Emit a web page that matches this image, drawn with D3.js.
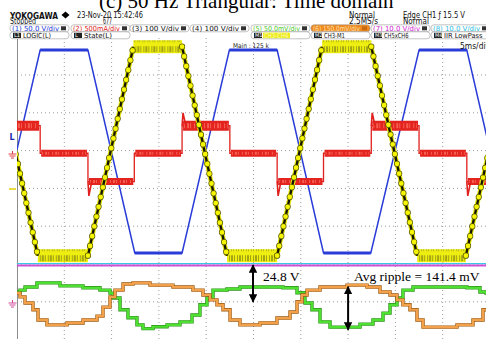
<!DOCTYPE html>
<meta charset="utf-8">
<style>
  body { margin: 0; overflow: hidden; background: #fff; }
  svg { display: block; font-family: "DejaVu Sans", sans-serif; }
</style>
<body>
<svg id="scope"></svg>
<script src="https://d3js.org/d3.v7.min.js"></script>
<script>
var width = 486, height = 339;

// time in ms (5 ms/div), levels in screen divisions from the centre line
var blueT = [-2.55, 2.45, 7.5, 12.45, 17.45, 22.45, 27.5, 32.4, 37.4, 42.5, 47.55, 52.5];
var blueV = [-1.71, 3.66, 3.66, -1.71, -1.71, 3.66, 3.66, -1.71, -1.71, 3.66, 3.66, -1.71];

var yellowT = [-2.6, 2.2, 7.5, 12.3, 17.45, 22.2, 27.5, 32.25, 37.45, 42.3, 47.45, 52.3];
var yellowV = [3.75, -1.78, -1.78, 3.75, 3.75, -1.78, -1.78, 3.75, 3.75, -1.78, -1.78, 3.75];

var redT = [-2.55, 2.45, 7.5, 12.4, 17.45, 22.5, 27.5, 32.4, 37.45, 42.5, 47.55, 52.5];
var redV = [1.66, 0.93, 0.18, 0.93, 1.66, 0.93, 0.18, 0.93, 1.66, 0.93, 0.18, 0.93];
var redSpikeT = [7.55, 17.5, 27.55, 37.5, 47.6];
var redSpikeV = [-0.2, 2.0, -0.2, 2.0, -0.2];

var cyanV = -1.99, magentaV = -2.04;

var greenT = [0, 0.32, 0.85, 2.11, 2.75, 4.55, 6.98, 8.77, 9.83, 10.15, 10.89, 11.73, 12.68, 13.32, 14.38, 15.86, 17.23, 18.5, 19.34, 20.08, 20.72, 22.2, 23.57, 25.69, 28.12, 29.6, 30.44, 31.18, 32.03, 33.09, 34.14, 36.26, 37.63, 38.69, 39.43, 40.17, 40.8, 41.86, 44.71, 47.57, 48.94, 49.58, 50];
var greenV = [-2.74, -2.69, -2.61, -2.5, -2.5, -2.58, -2.63, -2.69, -2.77, -2.9, -3.21, -3.42, -3.61, -3.71, -3.66, -3.61, -3.53, -3.35, -3.08, -2.9, -2.69, -2.66, -2.61, -2.61, -2.63, -2.76, -3.03, -3.21, -3.53, -3.67, -3.67, -3.59, -3.48, -3.3, -3.08, -2.9, -2.69, -2.61, -2.61, -2.63, -2.74, -2.77, -2.77];

var orangeT = [0, 0.32, 0.85, 1.69, 2.22, 3.17, 5.29, 6.98, 8.46, 9.09, 9.83, 10.36, 11.21, 12.26, 14.06, 16.49, 18.6, 19.66, 20.4, 21.14, 21.78, 22.52, 23.57, 25.69, 27.48, 28.86, 29.6, 30.13, 30.66, 32.03, 34.88, 37.0, 38.37, 39.43, 40.17, 40.8, 41.54, 42.28, 42.92, 44.71, 46.51, 48.2, 49.26, 49.79, 50];
var orangeV = [-2.77, -2.87, -3.03, -3.21, -3.48, -3.61, -3.56, -3.48, -3.38, -3.14, -2.87, -2.69, -2.53, -2.5, -2.56, -2.61, -2.69, -2.82, -2.95, -3.08, -3.21, -3.48, -3.61, -3.56, -3.43, -3.27, -3.0, -2.82, -2.69, -2.61, -2.56, -2.61, -2.74, -2.82, -2.95, -3.08, -3.21, -3.48, -3.67, -3.67, -3.61, -3.48, -3.21, -3.03, -3.03];

var arrowT = [24.95, 35.0];
var arrowFrom = [-2.03, -2.6];
var arrowTo = [-3.0, -3.74];

var svg = d3.select("#scope").attr("width", width).attr("height", height);

var x = d3.scaleLinear().domain([0, 50]).range([17, 490]);
var y = d3.scaleLinear().domain([4, -4]).range([37.2, 339.6]);

var defs = svg.append("defs");
defs.append("clipPath").attr("id", "plotclip")
  .append("rect").attr("x", 17).attr("y", 38).attr("width", 480).attr("height", 310);
defs.append("marker").attr("id", "head")
  .attr("viewBox", "0 0 10 10").attr("refX", 9).attr("refY", 5)
  .attr("markerWidth", 4.2).attr("markerHeight", 4.2)
  .attr("markerUnits", "strokeWidth").attr("orient", "auto-start-reverse")
  .append("path").attr("d", "M0,0 L10,5 L0,10 z").attr("fill", "#000");

function pts(T, V) { return T.map(function(t, i) { return [t, V[i]]; }); }
function flats(T, V) {
  var s = [];
  for (var i = 0; i < T.length - 1; i++) if (V[i] === V[i + 1]) s.push([T[i], T[i + 1], V[i]]);
  return s;
}
function ramps(T, V) {
  var s = [];
  for (var i = 0; i < T.length - 1; i++) if (V[i] !== V[i + 1]) s.push([[T[i], V[i]], [T[i + 1], V[i + 1]]]);
  return s;
}
function steps(T, V) {
  var s = [];
  for (var i = 0; i < T.length - 1; i++) s.push([T[i], T[i + 1], V[i]]);
  return s;
}
var line = d3.line().x(function(d) { return x(d[0]); }).y(function(d) { return y(d[1]); });
var stepLine = d3.line().curve(d3.curveStepAfter).x(function(d) { return x(d[0]); }).y(function(d) { return y(d[1]); });

// grid
var grid = svg.append("g");
grid.selectAll(".vg").data(d3.range(5, 50, 5)).enter().append("line")
  .attr("x1", x).attr("x2", x).attr("y1", 38).attr("y2", height)
  .attr("stroke", "#9c9c9c").attr("stroke-dasharray", "1,3");
grid.selectAll(".hg").data(d3.range(-3, 4, 1)).enter().append("line")
  .attr("x1", 17).attr("x2", width).attr("y1", y).attr("y2", y)
  .attr("stroke", "#9c9c9c").attr("stroke-dasharray", "1,3");
grid.append("line").attr("x1", 17.5).attr("x2", 17.5).attr("y1", 38).attr("y2", height)
  .attr("stroke", "#8c8c8c").attr("stroke-width", 1);

var plot = svg.append("g").attr("clip-path", "url(#plotclip)");

// CH1 blue
plot.append("path").datum(pts(blueT, blueV)).attr("d", line)
  .attr("fill", "none").attr("stroke", "#2a3cd8").attr("stroke-width", 1.5);
plot.selectAll(".bflat").data(flats(blueT, blueV)).enter().append("line")
  .attr("x1", function(d) { return x(d[0]); }).attr("x2", function(d) { return x(d[1]); })
  .attr("y1", function(d) { return y(d[2]); }).attr("y2", function(d) { return y(d[2]); })
  .attr("stroke", "#2a3cd8").attr("stroke-width", 3);

// CH2 red
plot.append("path").datum(pts(redT, redV)).attr("d", stepLine)
  .attr("fill", "none").attr("stroke", "#e0201c").attr("stroke-width", 1.3);
plot.selectAll(".rband").data(steps(redT, redV)).enter().append("line")
  .attr("x1", function(d) { return x(d[0]) + 1; }).attr("x2", function(d) { return x(d[1]) - 1; })
  .attr("y1", function(d) { return y(d[2]); }).attr("y2", function(d) { return y(d[2]); })
  .attr("stroke", "#e3231e").attr("stroke-width", function(d) { return d[2] > 1.5 ? 10 : 7; });
plot.selectAll(".rtex").data(steps(redT, redV)).enter().append("line")
  .attr("x1", function(d) { return x(d[0]) + 2; }).attr("x2", function(d) { return x(d[1]) - 2; })
  .attr("y1", function(d) { return y(d[2]); }).attr("y2", function(d) { return y(d[2]); })
  .attr("stroke", "#ff7a6a").attr("stroke-width", function(d) { return d[2] > 1.5 ? 5 : 3; })
  .attr("stroke-dasharray", "1,2,2,1,1,3").attr("opacity", 0.7);
plot.selectAll(".rspike").data(redSpikeT.map(function(t, i) { return [t, redSpikeV[i]]; }))
  .enter().append("path")
  .attr("d", function(d) {
    var j = d3.bisectRight(redT, d[0]) - 1;
    return line([[d[0] - 0.05, redV[j]], [d[0] + 0.05, d[1]], [d[0] + 0.35, redV[j]]]);
  })
  .attr("fill", "none").attr("stroke", "#e0201c").attr("stroke-width", 1.6);

// M1 yellow: flat bands, then ramps drawn as black core with yellow dots
var yf = flats(yellowT, yellowV);
plot.selectAll(".yband").data(yf).enter().append("line")
  .attr("x1", function(d) { return x(d[0]); }).attr("x2", function(d) { return x(d[1]); })
  .attr("y1", function(d) { return y(d[2]); }).attr("y2", function(d) { return y(d[2]); })
  .attr("stroke", "#eeee10").attr("stroke-width", 13);
plot.selectAll(".ytex").data(yf).enter().append("line")
  .attr("x1", function(d) { return x(d[0]) + 2; }).attr("x2", function(d) { return x(d[1]) - 1; })
  .attr("y1", function(d) { return y(d[2]) + 2.5; }).attr("y2", function(d) { return y(d[2]) + 2.5; })
  .attr("stroke", "#8a8a18").attr("stroke-width", 6)
  .attr("stroke-dasharray", "1,1,2,1,1,2").attr("opacity", 0.75);
plot.selectAll(".ytop").data(yf).enter().append("line")
  .attr("x1", function(d) { return x(d[0]) + 1; }).attr("x2", function(d) { return x(d[1]); })
  .attr("y1", function(d) { return y(d[2]) - 5.5; }).attr("y2", function(d) { return y(d[2]) - 5.5; })
  .attr("stroke", "#b8b820").attr("stroke-width", 2)
  .attr("stroke-dasharray", "1,2,1,1");
var yr = ramps(yellowT, yellowV);
[["#e8e800", 4.6, null, "butt"], ["#141400", 2.4, null, "butt"],
 ["#5a5a00", 6.2, "0,10", "round"], ["#f6f600", 4.8, "0,10", "round"]].forEach(function(st) {
  plot.selectAll(null).data(yr).enter().append("path").attr("d", line)
    .attr("fill", "none").attr("stroke", st[0]).attr("stroke-width", st[1])
    .attr("stroke-dasharray", st[2]).attr("stroke-linecap", st[3]);
});

// CH7 / CH8 flat lines
plot.append("line").attr("x1", 17).attr("x2", width).attr("y1", y(cyanV)).attr("y2", y(cyanV))
  .attr("stroke", "#38c8e8").attr("stroke-width", 1.2);
plot.append("line").attr("x1", 17).attr("x2", width).attr("y1", y(magentaV)).attr("y2", y(magentaV))
  .attr("stroke", "#d050d8").attr("stroke-width", 1.8);

// CH5 green / CH6 orange
[[greenT, greenV, "#2f8f1c", "#4ee030"], [orangeT, orangeV, "#9a5a10", "#f2a04a"]].forEach(function(s) {
  var p = pts(s[0], s[1]);
  plot.append("path").datum(p).attr("d", stepLine)
    .attr("fill", "none").attr("stroke", s[2]).attr("stroke-width", 3.4);
  plot.append("path").datum(p).attr("d", stepLine)
    .attr("fill", "none").attr("stroke", s[3]).attr("stroke-width", 2.2);
});

// annotation arrows
arrowT.forEach(function(t, i) {
  svg.append("line")
    .attr("x1", x(t)).attr("x2", x(t))
    .attr("y1", y(arrowFrom[i])).attr("y2", y(arrowTo[i]))
    .attr("stroke", "#000").attr("stroke-width", 2)
    .attr("marker-start", "url(#head)").attr("marker-end", "url(#head)");
});
svg.append("text").attr("x", 263).attr("y", 281)
  .attr("font-family", "Liberation Serif, serif").attr("font-size", 13.5).text("24.8 V");
svg.append("text").attr("x", 354).attr("y", 281)
  .attr("font-family", "Liberation Serif, serif").attr("font-size", 13.5).text("Avg ripple = 141.4 mV");

// left-side channel markers
svg.append("text").attr("x", 9.5).attr("y", 140).attr("font-size", 8).attr("font-weight", "bold")
  .attr("fill", "#1c2cb0").text("L");
function ground(cx, cy, col) {
  var g = svg.append("g").attr("stroke", col).attr("stroke-width", 1);
  g.append("line").attr("x1", cx - 4).attr("x2", cx + 4).attr("y1", cy).attr("y2", cy);
  g.append("line").attr("x1", cx - 3).attr("x2", cx + 3).attr("y1", cy + 2).attr("y2", cy + 2);
  g.append("line").attr("x1", cx - 1.5).attr("x2", cx + 1.5).attr("y1", cy + 4).attr("y2", cy + 4);
  g.append("line").attr("x1", cx).attr("x2", cx).attr("y1", cy - 3).attr("y2", cy);
}
ground(12.5, 154, "#e04040");
ground(12.5, 303, "#d04a9a");
svg.append("line").attr("x1", 9).attr("x2", 16).attr("y1", 189).attr("y2", 189)
  .attr("stroke", "#e0d000").attr("stroke-width", 1.5);

svg.append("text").attr("x", 233).attr("y", 47.5).attr("font-size", 6.5).attr("fill", "#222")
  .attr("textLength", 36).attr("lengthAdjust", "spacingAndGlyphs").text("Main : 125 k");
svg.append("text").attr("x", 460).attr("y", 48.5).attr("font-size", 9).attr("fill", "#111")
  .attr("textLength", 30).attr("lengthAdjust", "spacingAndGlyphs").text("5ms/div");

// header
var hdr = svg.append("g");
hdr.append("rect").attr("x", 0).attr("y", 0).attr("width", width).attr("height", 38).attr("fill", "#fff");
hdr.append("text").attr("x", 99).attr("y", 8).attr("font-family", "Liberation Serif, serif")
  .attr("font-size", 21).text("(c) 50 Hz Triangular: Time domain");
function htxt(tx, ty, s, w, opts) {
  opts = opts || {};
  return hdr.append("text").attr("x", tx).attr("y", ty).attr("font-size", opts.size || 7.5)
    .attr("font-weight", opts.bold ? "bold" : null).attr("fill", opts.fill || "#111")
    .attr("textLength", w).attr("lengthAdjust", "spacingAndGlyphs").text(s);
}
htxt(10, 18.5, "YOKOGAWA", 48, {size: 9.5, bold: true});
hdr.append("path").attr("d", "M65.5,11.5 L69.5,15 L65.5,18.5 L61.5,15 Z").attr("fill", "#000");
htxt(77, 17.5, "23-Nov-20 15:42:46", 66, {size: 8});
htxt(10, 24, "Stopped", 26, {size: 8});
htxt(103, 24, "677", 9, {size: 8});
htxt(349, 17.5, "Normal", 26, {size: 8});
htxt(349, 24, "2.5MS/s", 29, {size: 8});
htxt(403, 17.5, "Edge CH1 \u0192 15.5 V", 62, {size: 8});
htxt(403, 24, "Normal", 26, {size: 8});

var tabs1 = [
  [10, "(1) 50.0 V/div", "#2034d8", null],
  [71, "(2) 500mA/div", "#e02020", null],
  [130, "(3) 100 V/div", "#111", null],
  [190, "(4) 100 V/div", "#111", null],
  [251, "(5) 50.0mV/div", "#48c828", null],
  [311, "(6) 150.0mV/div", "#ffe0b0", "#f08a1e"],
  [371, "(7) 10.0 V/div", "#d020d0", null],
  [431, "(8) 10.0 V/div", "#28c0e0", null]
];
tabs1.forEach(function(t) {
  hdr.append("rect").attr("x", t[0]).attr("y", 24.8).attr("width", 59).attr("height", 7)
    .attr("rx", 3).attr("fill", t[3] || "#fff").attr("stroke", "#9a9a9a").attr("stroke-width", 0.6);
  htxt(t[0] + 2, 30.9, t[1], 47, {size: 7, fill: t[2]});
  hdr.append("rect").attr("x", t[0] + 51).attr("y", 26.3).attr("width", 5).attr("height", 4)
    .attr("fill", t[3] ? "#c86a10" : "#333");
});
var tabs2 = [
  [10, "L1", "LOGIC(L)", null],
  [71, "L", "State(L)", null],
  [251, "M1", "CH3-CH4", "#ecec20"],
  [311, "M2", "CH3-M1", null],
  [371, "M3", "CH5xCH6", null],
  [431, "M4", "IIR LowPass", null]
];
tabs2.forEach(function(t) {
  hdr.append("rect").attr("x", t[0]).attr("y", 31.8).attr("width", 59).attr("height", 7)
    .attr("rx", 3).attr("fill", "#fff").attr("stroke", "#9a9a9a").attr("stroke-width", 0.6);
  hdr.append("rect").attr("x", t[0] + 3).attr("y", 32.8).attr("width", 8).attr("height", 5.2).attr("fill", "#222");
  hdr.append("text").attr("x", t[0] + 4).attr("y", 37.4).attr("font-size", 5).attr("fill", "#fff").text(t[1]);
  if (t[3]) hdr.append("rect").attr("x", t[0] + 12).attr("y", 32.6).attr("width", 27).attr("height", 5.6).attr("fill", t[3]);
  htxt(t[0] + 13, 37.8, t[2], t[2].length * 3.5, {size: 7, fill: t[3] ? "#fffcb0" : "#111"});
});
</script>
</body>
